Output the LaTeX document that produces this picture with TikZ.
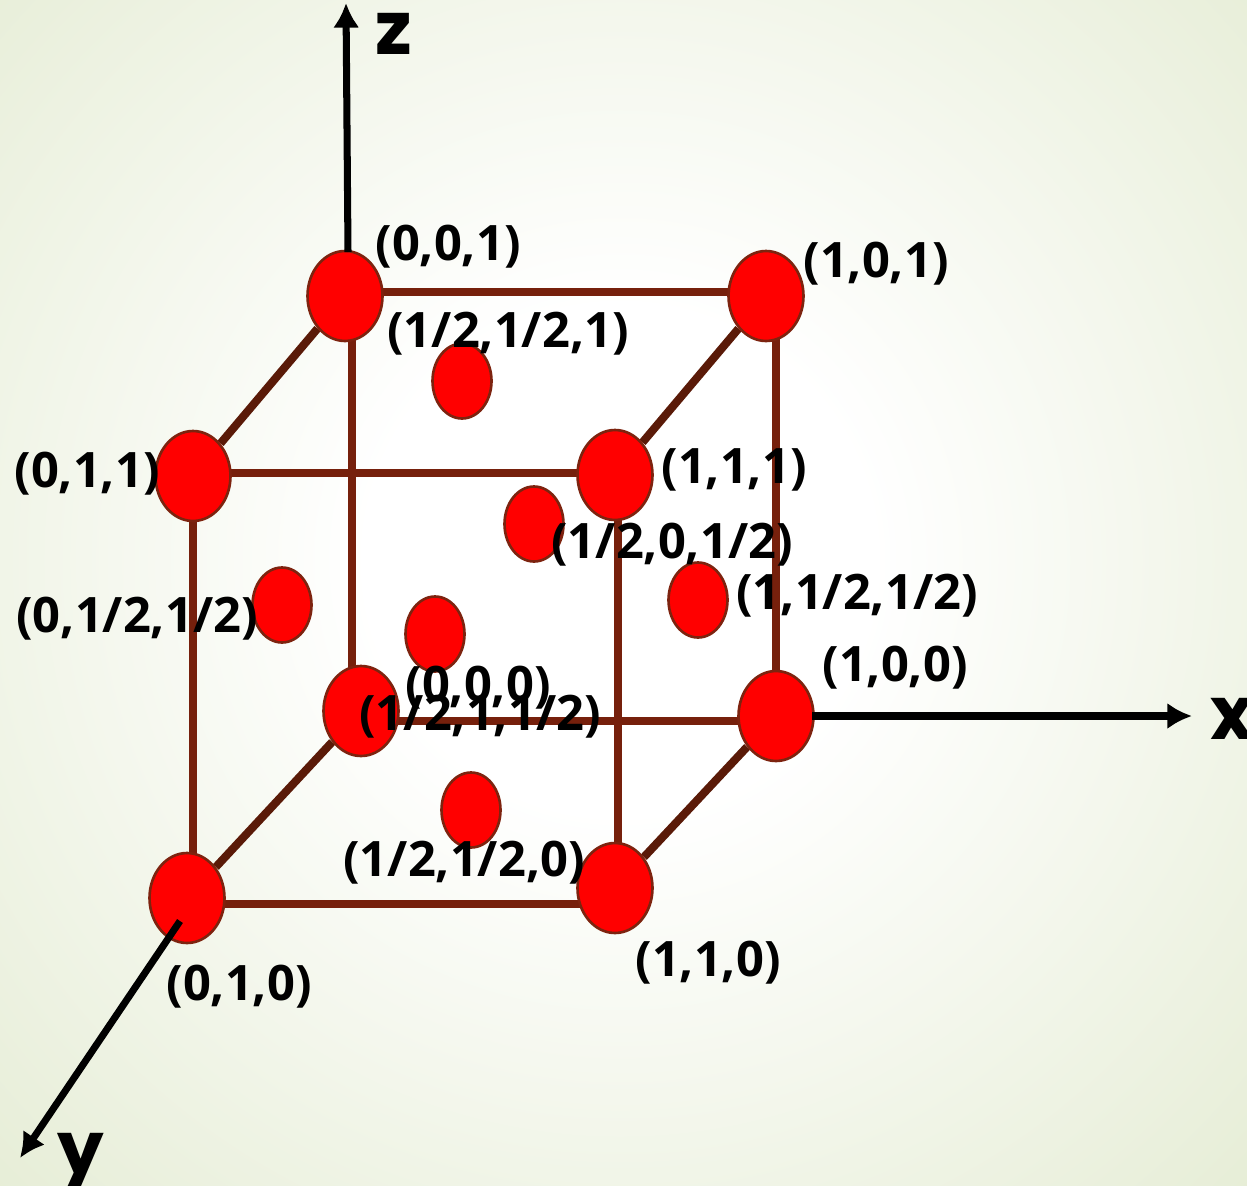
\documentclass[tikz,border=0pt]{standalone}
\usepackage{fontspec}
\setmainfont{Open Sans}
\newfontfamily\axisfont{Poppins}
\definecolor{cellbrown}{RGB}{118, 32, 12}
\definecolor{celldark}{RGB}{90, 26, 8}
\definecolor{atomred}{RGB}{255, 0, 0}
\definecolor{atomrim}{RGB}{125, 35, 15}
\definecolor{paper}{RGB}{230, 237, 214}
\usetikzlibrary{shapes.geometric, arrows.meta, backgrounds, calc}
\pgfdeclareradialshading{paperglow}{\pgfpoint{0bp}{0bp}}{color(0bp)=(white); color(7bp)=(white); color(25bp)=(paper); color(50bp)=(paper)}
\tikzset{
  atom/.style={draw=atomrim, fill=atomred, ellipse, line width=1.5pt,
               minimum width=1.5cm, minimum height=1.8cm, inner sep=0pt},
  faceatom/.style={atom, minimum width=1.18cm, minimum height=1.5cm},
  edge/.style={draw=cellbrown, line width=4.6pt},
  diagedge/.style={draw=celldark, line width=4.6pt},
  axis/.style={draw=black, line width=4pt, -{Latex[length=14pt,width=15pt]}},
  lab/.style={font=\fontsize{27.8}{28}\selectfont\bfseries, inner sep=0pt, yshift=-1.4pt},
  axlab/.style={font=\axisfont\fontsize{42}{42}\selectfont\bfseries, inner sep=0pt}
}
\begin{document}
\begin{tikzpicture}[x=0.02cm, y=-0.02cm]
    \useasboundingbox (0, 0) rectangle (1247, 1186);
    % corner atoms
    \node[atom] (a001) at (345, 296) {};
    \node[atom] (a101) at (766, 296) {};
    \node[atom] (a011) at (193, 476) {};
    \node[atom] (a111) at (615, 475) {};
    \node[atom] (a000) at (361, 711) {};
    \node[atom] (a100) at (776, 716) {};
    \node[atom] (a010) at (187, 898) {};
    \node[atom] (a110) at (615, 888) {};
    % face atoms
    \node[faceatom] (ftop) at (462, 381) {};
    \node[faceatom] (fback) at (534, 524) {};
    \node[faceatom] (fleft) at (282, 605) {};
    \node[faceatom] (ffront) at (435, 634) {};
    \node[faceatom] (fright) at (698, 600) {};
    \node[faceatom] (fbottom) at (471, 810) {};
    \begin{scope}[on background layer]
      \begin{scope}
        \clip (0, 0) rectangle (1247, 1186);
        \shade[shading=paperglow] (620, 560) circle (900);
      \end{scope}
      % cube edges
      \draw[edge] ($(a001)+(0,-4)$) -- ($(a101)+(0,-4)$);
      \draw[edge] ($(a011)+(0,-3)$) -- ($(a111)+(0,-2)$);
      \draw[edge] ($(a000)+(0,10)$) -- ($(a100)+(0,5)$);
      \draw[edge] ($(a010)+(0,6)$) -- ($(a110)+(0,16)$);
      \draw[edge] (a100 |- a101) -- (a100);
      \draw[edge] ($(a001)+(7,0)$) -- ($(a000)+(-9,0)$);
      \draw[edge] (a011) -- (a011 |- a010);
      \draw[edge] ($(a111)+(3,0)$) -- ($(a110)+(3,0)$);
      \draw[diagedge] (a001) -- (a011);
      \draw[diagedge] (a101) -- (a111);
      \draw[diagedge] (a000) -- (a010);
      \draw[diagedge] (a100) -- (a110);
    \end{scope}
    % axes
    \coordinate (zend) at (346, 3);
    \coordinate (xend) at (1192, 716);
    \coordinate (yend) at (20, 1158);
    \draw[axis] ($(a001)+(3,-44)$) -- (zend);
    \draw[axis] ($(a100)+(36,0)$) -- (xend);
    \draw[axis] ($(a010)+(-7,23)$) -- (yend);
    \node[axlab] (zlab) at (394, 34) {z};
    \node[axlab] (xlab) at (1232, 719) {x};
    \node[axlab] (ylab) at (81, 1164) {y};
    % labels
    \node[lab] (t001) at (448, 244) {(0,0,1)};
    \node[lab] (t101) at (876, 261) {(1,0,1)};
    \node[lab] (ttop) at (508, 331) {(1/2,1/2,1)};
    \node[lab] (t011) at (87, 471) {(0,1,1)};
    \node[lab] (t111) at (734, 467) {(1,1,1)};
    \node[lab] (tback) at (672, 542) {(1/2,0,1/2)};
    \node[lab] (tright) at (857, 593) {(1,1/2,1/2)};
    \node[lab] (tleft) at (137, 616) {(0,1/2,1/2)};
    \node[lab] (t100) at (895, 665) {(1,0,0)};
    \node[lab] (t000) at (478, 685) {(0,0,0)};
    \node[lab] (tfront) at (480, 714) {(1/2,1,1/2)};
    \node[lab] (tbottom) at (464, 860) {(1/2,1/2,0)};
    \node[lab] (t010) at (239, 984) {(0,1,0)};
    \node[lab] (t110) at (708, 960) {(1,1,0)};
\end{tikzpicture}
\end{document}
